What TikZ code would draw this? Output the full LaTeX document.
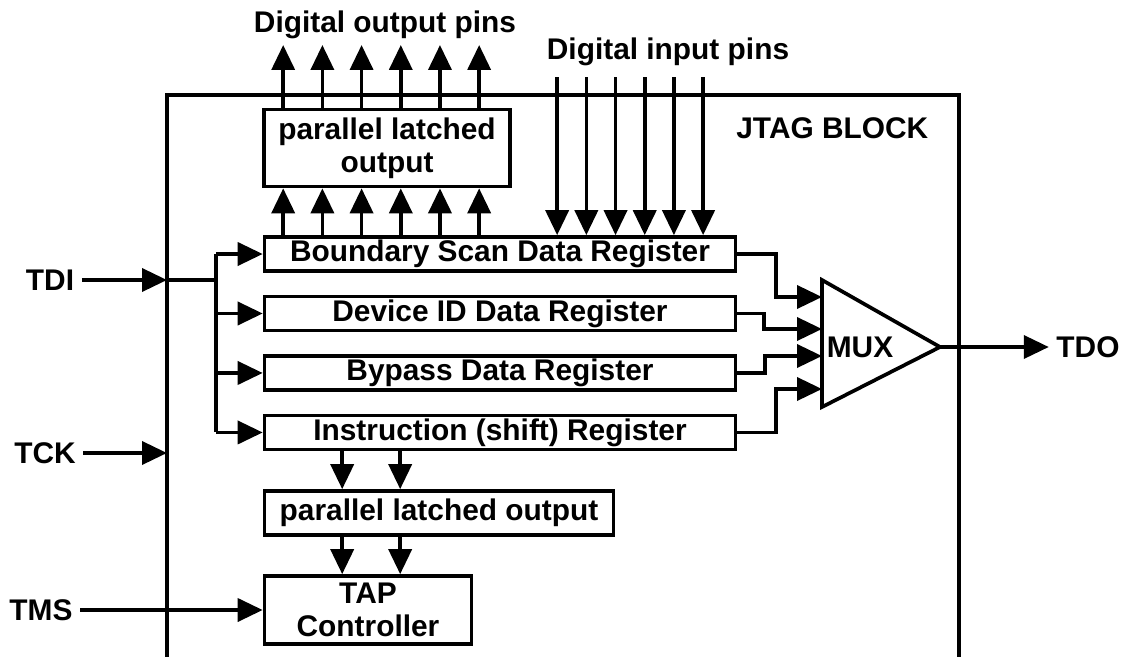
\documentclass[tikz,border=0pt]{standalone}
\usepackage{fontspec}
\setmainfont{Liberation Sans}
\usetikzlibrary{arrows.meta,positioning}

\begin{document}
\begin{tikzpicture}[x=0.02cm, y=-0.02cm, node distance=1.19cm, on grid,
                    >={Triangle[length=0.5cm,width=0.46cm]}, line width=2.1pt,
                    font=\fontsize{17}{19}\selectfont\bfseries]
    \tikzset{reg/.style={rectangle, draw, line width=2.1pt, minimum width=9.42cm,
                         minimum height=0.68cm, inner sep=0pt},
             latch/.style={rectangle, draw, line width=2.1pt, inner sep=0pt,
                           align=center}}
    \useasboundingbox (0,0) rectangle (1125,656);

    % JTAG block outline
    \draw[line width=2.4pt] (167,660) -- (167,95) -- (959,95) -- (959,660);
    \node (title) [left] at (936,128) {JTAG BLOCK};

    \node (bsr) [reg] at (500,254) {Boundary Scan Data Register};
    \node (did) [reg, below=of bsr] {Device ID Data Register};
    \node (byp) [reg, below=of did] {Bypass Data Register};
    \node (ir)  [reg, below=of byp] {Instruction (shift) Register};

    \node (plo)  [latch, minimum width=4.92cm, minimum height=1.54cm] at (387,148)
                 {parallel latched\\output};
    \node (plo2) [latch, minimum width=6.98cm, minimum height=0.88cm] at (439,513)
                 {parallel latched output};
    \node (tap)  [latch, minimum width=4.14cm, minimum height=1.36cm] at (368,610)
                 {TAP\\Controller};

    \node (outpins) at (385,25) {Digital output pins};
    \node (inpins)  at (668,52) {Digital input pins};
    \coordinate (outtop) at (0,45);
    \coordinate (intop) at (0,77);

    % pins
    \foreach \i in {0,...,5} {
      \draw [->] ([xshift=0.41cm+\i*0.784cm] bsr.north west |- plo.north) --
                 ([xshift=0.41cm+\i*0.784cm] bsr.north west |- outtop);
      \draw [->] ([xshift=0.41cm+\i*0.784cm] bsr.north west) --
                 ([xshift=0.41cm+\i*0.784cm] bsr.north west |- plo.south);
      \draw [->] ([xshift=5.89cm+\i*0.584cm] bsr.north west |- intop) --
                 ([xshift=5.89cm+\i*0.584cm] bsr.north west);
    }

    % inputs
    \node (tdi) at (50,280) {TDI};
    \node (tck) at (45,453) {TCK};
    \node (tms) at (41,610) {TMS};
    \coordinate (tdiin) at (167,280);
    \coordinate (split) at (216,280);

    \draw [->] (tdi.east) -- (tdiin);
    \draw (tdiin) -- (split);
    \draw (split |- bsr) -- (split |- ir);
    \foreach \r in {bsr,did,byp,ir}
      \draw [->] (split |- \r) -- (\r.west);
    \draw [->] (tck.east) -- (tck.east -| tdiin);
    \draw [->] (tms.east) -- (tap.west);

    \foreach \dx in {1.59cm,2.75cm} {
      \draw [->] ([xshift=\dx] ir.south west) -- ([xshift=\dx] ir.south west |- plo2.north);
      \draw [->] ([xshift=\dx] ir.south west |- plo2.south) --
                 ([xshift=\dx] ir.south west |- tap.north);
    }

    % mux
    \draw[line width=2.1pt] (822,280) -- (940,347) -- (822,407) -- cycle;
    \node (mux) at (860,347) {MUX};
    \coordinate (muxout) at (940,347);
    \coordinate (m1) at (822,297);
    \coordinate (m2) at (822,329);
    \coordinate (m3) at (822,356);
    \coordinate (m4) at (822,389);
    \node (tdo) at (1088,347) {TDO};

    \draw [->] (bsr.east) -- ++(39,0) |- (m1);
    \draw [->] (did.east) -- ++(27,0) |- (m2);
    \draw [->] (byp.east) -- ++(28,0) |- (m3);
    \draw [->] (ir.east) -- ++(39,0) |- (m4);
    \draw [->] (muxout) -- (tdo.west);
\end{tikzpicture}
\end{document}
